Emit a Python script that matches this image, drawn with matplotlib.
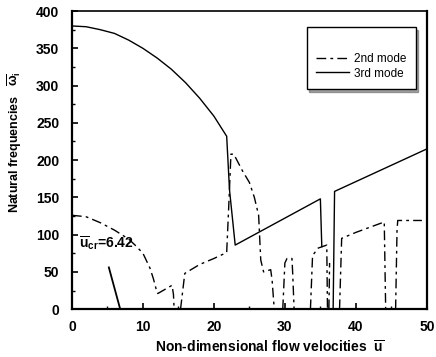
import matplotlib
matplotlib.use("Agg")
import matplotlib.pyplot as plt
import numpy as np

plt.rcParams['font.family'] = ['Liberation Sans', 'DejaVu Sans']
plt.rcParams['mathtext.fontset'] = 'custom'
plt.rcParams['mathtext.rm'] = 'Liberation Sans:bold'
plt.rcParams['mathtext.it'] = 'Liberation Sans:bold'
plt.rcParams['mathtext.bf'] = 'Liberation Sans:bold'

nan = np.nan

# 2nd mode (dash-dot), gaps marked with nan
mode2_x = [0, 2, 4, 6, 8, 9, 10, 11, 11.5, 12, 12.1, 14.1, 14.3, 14.4, nan,
           15.3, 15.9, 18, 20, 21.8, 22.1, 22.4, 22.8, 24, 25, 25.7, 26.3, 26.6, 27.0, 28.0, 28.2, 28.5, nan,
           29.7, 30.0, 30.3, 31.0, 31.1, 31.3, nan,
           33.6, 33.9, 34.7, 35.9, 36.0, nan,
           36.2, 36.3, nan,
           37.7, 38.0, 40, 42, 44.0, 44.2, nan,
           45.6, 45.8, 45.9, 49.3]
mode2_y = [126, 124, 116, 106, 94, 85, 75, 55, 40, 22, 21, 32, 20, 0, nan,
           0, 48, 60, 68, 76, 140, 208, 208, 186, 170, 150, 126, 66, 50, 53, 39, 0, nan,
           0, 62, 68, 68, 48, 0, nan,
           0, 72, 82, 86, 0, nan,
           0, 62, nan,
           0, 95, 103, 110, 117, 0, nan,
           0, 106, 119, 119]

# 3rd mode (solid)
mode3_x = [0, 2, 4, 6, 8, 10, 12, 14, 16, 18, 20, 21.8, 22.2, 23.0, 35.0, 35.2, nan,
           36.8, 37.0, 50]
mode3_y = [380, 379, 375, 370, 361, 350, 337, 322, 304, 283, 259, 232, 160, 86, 148, 84, nan,
           0, 158, 215]

# 1st mode reaching zero near the critical velocity
mode1_x = [5.2, 6.8]
mode1_y = [56, 0]

fig = plt.figure(figsize=(4.36, 3.57), dpi=100)
ax = fig.add_axes([0.165, 0.134, 0.814, 0.835])

ax.plot(mode2_x, mode2_y, color='black', lw=1.0, linestyle=(0, (7, 3, 2, 3)), label='2nd mode')
ax.plot(mode3_x, mode3_y, color='black', lw=1.0, label='3rd mode')
ax.plot(mode1_x, mode1_y, color='black', lw=1.3)

ax.text(1.0, 82, r'$\overline{\rm u}_{\rm cr}$=6.42', fontsize=10, fontweight='bold')

ax.set_xlim(0, 50)
ax.set_ylim(0, 400)
ax.set_xticks(np.arange(0, 51, 10))
ax.set_xticks(np.arange(0, 51, 5), minor=True)
ax.set_yticks(np.arange(0, 401, 50))
ax.set_yticks(np.arange(0, 401, 25), minor=True)
ax.tick_params(which='both', direction='in', top=False, right=False)
ax.tick_params(which='major', length=4, width=1.2, labelsize=10)
ax.tick_params(axis='y', which='major', pad=9)
ax.tick_params(axis='x', which='major', pad=8)
ax.tick_params(which='minor', length=2.5, width=1.0)
for lab in ax.get_xticklabels() + ax.get_yticklabels():
    lab.set_fontweight('bold')

for side in ['left', 'bottom', 'right']:
    ax.spines[side].set_linewidth(1.6)
ax.spines['top'].set_linewidth(1.2)

ax.set_xlabel(r'Non-dimensional flow velocities  $\overline{\rm u}$', fontsize=10, fontweight='bold')
ax.set_ylabel(r'Natural frequencies   $\overline{\omega}_{\rm i}$', fontsize=9, fontweight='bold')
ax.xaxis.set_label_coords(0.558, -0.1)
ax.yaxis.set_label_coords(-0.135, 0.56)

leg = ax.legend(loc='upper right', bbox_to_anchor=(0.985, 0.965), title=' ', fontsize=8.5,
                frameon=True, fancybox=False, shadow=True, edgecolor='black',
                handlelength=2.8, handletextpad=0.4, borderpad=0.8, labelspacing=0.2)
leg.get_frame().set_linewidth(1.0)

fig.savefig('out.png', dpi=100)
